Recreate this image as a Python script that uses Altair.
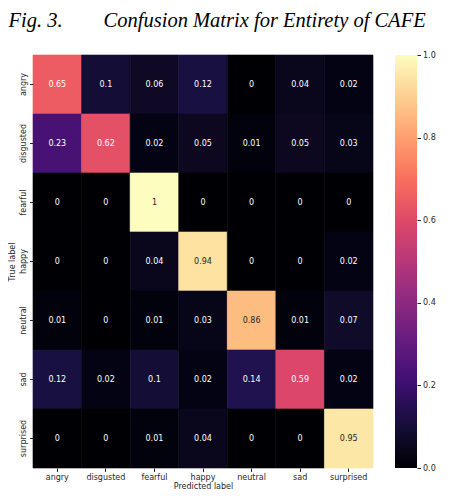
import altair as alt
import pandas as pd

labels = ["angry", "disgusted", "fearful", "happy", "neutral", "sad", "surprised"]
matrix = [
    [0.65, 0.1, 0.06, 0.12, 0, 0.04, 0.02],
    [0.23, 0.62, 0.02, 0.05, 0.01, 0.05, 0.03],
    [0, 0, 1, 0, 0, 0, 0],
    [0, 0, 0.04, 0.94, 0, 0, 0.02],
    [0.01, 0, 0.01, 0.03, 0.86, 0.01, 0.07],
    [0.12, 0.02, 0.1, 0.02, 0.14, 0.59, 0.02],
    [0, 0, 0.01, 0.04, 0, 0, 0.95],
]
colorbar_ticks = [0.0, 0.2, 0.4, 0.6, 0.8, 1.0]

magma = ["#000004", "#140e36", "#3b0f70", "#641a80", "#8c2981", "#b73779",
         "#de4968", "#f7705c", "#fe9f6d", "#fecf92", "#fcfdbf"]

rows = []
for i, t in enumerate(labels):
    for j, p in enumerate(labels):
        rows.append({"true": t, "pred": p, "v": matrix[i][j],
                     "txt": f"{matrix[i][j]:g}"})
df = pd.DataFrame(rows)

FONT = "DejaVu Sans"
axis_common = dict(domain=False, grid=False, ticks=True, tickSize=3.5,
                   tickColor="#262626", labelColor="#262626",
                   labelFont=FONT, labelFontSize=8)
title_common = dict(titleColor="#262626", titleFont=FONT, titleFontSize=8,
                    titleFontWeight="normal")

x = alt.X("pred:N", sort=labels, title="Predicted label",
          axis=alt.Axis(labelAngle=0, labelPadding=2, titlePadding=1,
                        **axis_common, **title_common))
y = alt.Y("true:N", sort=labels, title="True label",
          axis=alt.Axis(labelAngle=270, labelAlign="center", labelBaseline="bottom",
                        labelPadding=2, titlePadding=3, **axis_common, **title_common))

cscale = alt.Scale(domain=[0, 1], range=magma)
base = alt.Chart(df).encode(x=x, y=y)
rect = base.mark_rect(strokeWidth=0.6).encode(
    color=alt.Color("v:Q", scale=cscale, legend=None),
    stroke=alt.Stroke("v:Q", scale=cscale, legend=None),
)
text = base.mark_text(font=FONT, fontSize=8).encode(
    text="txt:N",
    color=alt.condition(alt.datum.v > 0.7, alt.value("#262626"), alt.value("#ffffff")),
)
heat = (rect + text).properties(width=340, height=413)

cb_df = pd.DataFrame({"lo": [0.0], "hi": [1.0]})
grad = alt.Gradient(gradient="linear", x1=0, x2=0, y1=1, y2=0,
                    stops=[alt.GradientStop(offset=i / 10, color=c) for i, c in enumerate(magma)])
colorbar = alt.Chart(cb_df).mark_rect(color=grad).encode(
    x=alt.value(0), x2=alt.value(22),
    y=alt.Y("lo:Q", scale=alt.Scale(domain=[0, 1], nice=False),
            axis=alt.Axis(orient="right", values=colorbar_ticks, format=".1f", title=None,
                          labelPadding=2, **axis_common)),
    y2="hi:Q",
).properties(width=22, height=413)

chart = alt.hconcat(heat, colorbar, spacing=21).properties(
    title=alt.TitleParams(
        "Fig. 3.\u00a0\u00a0\u00a0\u00a0\u00a0\u00a0\u00a0 Confusion Matrix for Entirety of CAFE",
        font="Liberation Serif", fontStyle="italic", fontSize=20.5, fontWeight="normal",
        color="#000000", anchor="start", offset=19.5),
    padding={"left": 0, "top": 3, "right": 0, "bottom": 0},
).configure_view(stroke=None)

chart.save("out.html", embed_options={"renderer": "svg", "actions": False})
